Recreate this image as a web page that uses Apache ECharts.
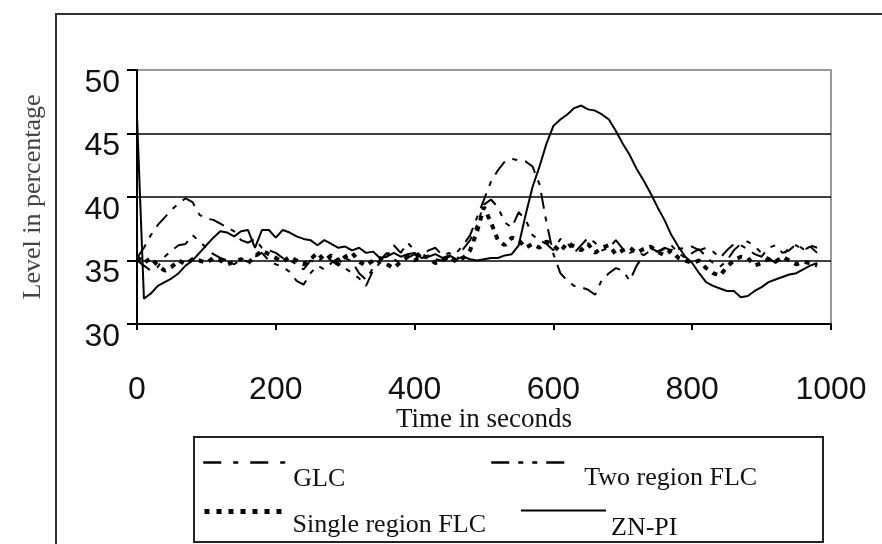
<!DOCTYPE html>
<html>
<head>
<meta charset="utf-8">
<script src="https://cdn.jsdelivr.net/npm/echarts@6/dist/echarts.min.js"></script>
<style>
  html, body { margin: 0; padding: 0; background: #fff; }
  #chart { width: 882px; height: 544px; }
</style>
</head>
<body>
<div id="chart"></div>
<script>
// time in seconds, one reading every 10 s
const seconds = [
  0, 10, 20, 30, 40, 50, 60, 70, 80, 90,
  100, 110, 120, 130, 140, 150, 160, 170, 180, 190,
  200, 210, 220, 230, 240, 250, 260, 270, 280, 290,
  300, 310, 320, 330, 340, 350, 360, 370, 380, 390,
  400, 410, 420, 430, 440, 450, 460, 470, 480, 490,
  500, 510, 520, 530, 540, 550, 560, 570, 580, 590,
  600, 610, 620, 630, 640, 650, 660, 670, 680, 690,
  700, 710, 720, 730, 740, 750, 760, 770, 780, 790,
  800, 810, 820, 830, 840, 850, 860, 870, 880, 890,
  900, 910, 920, 930, 940, 950, 960, 970, 980
];

const glc = [
  35.2, 36.0, 37.0, 37.8, 38.4, 39.0, 39.5, 39.9, 39.6, 38.6,
  38.3, 38.2, 37.9, 37.6, 37.3, 36.6, 36.4, 36.7, 36.0, 35.8,
  35.6, 35.2, 35.0, 34.7, 34.3, 35.0, 34.8, 35.5, 35.0, 34.6,
  35.2, 34.9, 34.0, 33.5, 34.4, 35.0, 35.6, 35.1, 34.8, 35.2,
  35.5, 35.0, 35.4, 35.1, 35.0, 35.3, 35.6, 36.2, 37.0, 38.4,
  39.8, 41.2, 42.1, 42.8, 43.0, 42.9, 42.8, 42.4, 41.0, 38.0,
  35.5, 34.0, 33.4, 33.0, 32.9, 32.7, 32.3, 33.5, 34.0, 34.4,
  34.2, 33.4, 34.6, 35.4, 35.8, 35.7, 36.0, 35.8, 35.9, 36.0,
  36.1, 35.8, 36.0, 35.7, 35.2, 35.8, 36.3, 36.2, 35.9, 35.5,
  35.3, 36.0, 36.2, 35.6, 35.8, 36.3, 35.9, 36.2, 36.0
];

const twoRegionFlc = [
  35.0, 34.6, 34.2, 34.5, 35.3, 35.8, 36.2, 36.3, 37.0, 36.5,
  36.0, 35.5, 35.2, 35.0, 34.7, 35.1, 34.9, 35.3, 35.6, 35.0,
  34.7, 34.5, 34.1, 33.4, 33.1, 34.0, 34.6, 34.3, 34.8, 35.2,
  34.4, 34.0, 33.6, 33.0, 34.2, 34.8, 35.3, 36.2, 35.6, 36.4,
  35.8, 35.3, 35.8, 36.0, 35.4, 35.6, 35.0, 35.9, 36.6, 37.8,
  39.4, 39.8, 39.2, 38.0, 37.6, 38.8, 38.2, 37.0, 36.6, 36.3,
  35.8, 36.7, 36.4, 35.6, 36.2, 36.8, 36.4, 35.8, 36.0, 36.6,
  35.9, 35.6, 35.8, 35.4, 36.0, 35.7, 35.9, 36.2, 35.6, 35.2,
  35.6, 35.9, 35.3, 34.8, 34.5, 35.0, 35.8, 36.3, 36.5, 36.1,
  35.6, 35.2, 34.8, 35.4, 36.0, 36.2, 35.8, 36.1, 35.6
];

const singleRegionFlc = [
  35.3, 34.8, 35.2, 34.6, 34.2, 34.5, 35.0, 34.7, 35.1, 35.0,
  34.8, 35.2, 35.0, 34.7, 34.9, 35.1, 34.8, 35.3, 35.8, 35.5,
  35.2, 34.9, 35.3, 35.0, 34.7, 35.1, 35.6, 35.0, 35.4, 34.8,
  35.3, 35.6, 34.9, 34.6, 35.0, 35.2, 34.7, 34.4, 34.9, 35.3,
  35.0, 35.4, 35.2, 34.8, 35.0, 35.3, 34.9, 35.2, 35.8, 37.3,
  39.2, 38.0, 36.6, 36.2, 36.8, 36.6, 36.0, 36.3, 36.0, 36.5,
  36.2, 35.7, 36.4, 36.1, 35.8, 36.3, 35.6, 36.0, 36.2, 35.5,
  35.8, 36.0, 35.6, 35.9, 36.1, 35.7, 35.4, 35.8, 35.2, 35.0,
  34.8, 35.0, 34.4, 34.0, 33.8, 34.5, 35.0, 35.3, 35.2, 34.6,
  34.8, 35.1, 34.9, 35.3, 35.0, 34.7, 34.9, 34.8, 34.6
];

const znPi = [
  46.3, 32.0, 32.4, 33.0, 33.3, 33.6, 34.0, 34.6, 35.0, 35.6,
  36.2, 36.8, 37.3, 37.2, 36.9, 37.3, 37.4, 36.0, 37.4, 37.4,
  36.8, 37.4, 37.2, 36.9, 36.7, 36.6, 36.2, 36.6, 36.3, 36.0,
  36.1, 35.8, 36.0, 35.6, 35.7, 35.2, 35.3, 35.6, 35.3, 35.5,
  35.6, 35.2, 35.3, 35.5, 35.2, 35.4, 35.1, 35.3, 35.1, 35.0,
  35.1, 35.2, 35.2, 35.4, 35.5, 36.2, 38.6, 40.8, 42.4, 44.2,
  45.6, 46.1, 46.5, 47.0, 47.2, 46.9, 46.8, 46.5, 46.1, 45.2,
  44.2, 43.3, 42.2, 41.3, 40.3, 39.2, 38.2, 37.0, 36.1, 35.3,
  34.8, 34.0, 33.3, 33.0, 32.8, 32.6, 32.6, 32.1, 32.2, 32.6,
  32.9, 33.3, 33.5, 33.7, 33.9, 34.0, 34.3, 34.6, 34.8
];

const xTicks = { min: 0, max: 1000, step: 200 };
const yTicks = { min: 30, max: 50, step: 5 };

const pairs = (vals) => vals.map((v, i) => [seconds[i], v]);

const serif = 'Liberation Serif, Times New Roman, serif';
const sans = 'Liberation Sans, Arial, sans-serif';

const chart = echarts.init(document.getElementById('chart'), null, { renderer: 'canvas' });

// each legend entry sits on its own, the name drops below the sample line
function legendFor(name, left, top, iconWidth, shiftDown, gapLeft, lineStyle) {
  return {
    data: [name],
    left: left,
    top: top,
    padding: 0,
    itemWidth: iconWidth,
    itemHeight: 14,
    selectedMode: false,
    itemStyle: { color: 'rgba(0,0,0,0)', borderWidth: 0, opacity: 0 },
    lineStyle: lineStyle || {},
    formatter: (n) => '{t|' + n + '}',
    textStyle: {
      rich: {
        t: {
          fontFamily: serif, fontSize: 26, color: '#111',
          padding: [shiftDown * 2, 0, 0, gapLeft]
        }
      }
    }
  };
}

chart.setOption({
  animation: false,
  backgroundColor: '#fff',
  grid: {
    left: 137, right: 51, top: 70, bottom: 220,
    show: true, borderColor: '#9a9a9a', borderWidth: 2
  },
  xAxis: {
    type: 'value',
    min: xTicks.min, max: xTicks.max, interval: xTicks.step,
    name: 'Time in seconds',
    nameLocation: 'middle',
    nameGap: 78,
    nameTextStyle: { fontFamily: serif, fontSize: 27, color: '#111' },
    axisLine: { lineStyle: { color: '#000', width: 2 } },
    axisTick: { show: true, length: 6, lineStyle: { color: '#000', width: 2 } },
    axisLabel: {
      fontFamily: sans, fontSize: 32, color: '#111', margin: 50,
      formatter: (v) => String(v)
    },
    splitLine: { show: false }
  },
  yAxis: {
    type: 'value',
    min: yTicks.min, max: yTicks.max, interval: yTicks.step,
    name: 'Level in percentage',
    nameLocation: 'middle',
    nameGap: 91,
    nameTextStyle: { fontFamily: serif, fontSize: 26, color: '#444' },
    axisLine: { show: true, lineStyle: { color: '#000', width: 2 } },
    axisTick: { show: true, length: 10, lineStyle: { color: '#000', width: 2 } },
    axisLabel: {
      margin: 17,
      formatter: (v) => '{n|' + v + '}',
      rich: { n: { fontFamily: sans, fontSize: 32, color: '#111', padding: [26, 0, 0, 0] } }
    },
    splitLine: { show: true, showMaxLine: false, lineStyle: { color: '#000', width: 1.5 } }
  },
  legend: [
    legendFor('GLC', 202, 457, 85, 17, 0, { width: 2.5, type: [18, 12, 5, 12] }),
    legendFor('Two region FLC', 490, 457, 80, 16, 8, { width: 2.5, type: [18, 9, 5, 9, 5, 9] }),
    legendFor('Single region FLC', 202, 506, 83, 14, 0, { width: 5, type: [5, 7] }),
    legendFor('ZN-PI', 520, 505, 85, 18, 0, { width: 2 })
  ],
  graphic: [
    { type: 'rect', shape: { x: 56, y: 14, width: 900, height: 600 },
      style: { fill: null, stroke: '#333', lineWidth: 2 }, silent: true, z: -1 },
    { type: 'rect', shape: { x: 194, y: 437, width: 629, height: 105 },
      style: { fill: null, stroke: '#222', lineWidth: 2 }, silent: true, z: -1 }
  ],
  series: [
    {
      name: 'Single region FLC', type: 'line', data: pairs(singleRegionFlc),
      symbol: 'none', lineStyle: { color: '#000', width: 4, type: [5, 6] }, itemStyle: { color: '#000' }
    },
    {
      name: 'Two region FLC', type: 'line', data: pairs(twoRegionFlc),
      symbol: 'none', lineStyle: { color: '#000', width: 2, type: [16, 8, 5, 8, 5, 8] }, itemStyle: { color: '#000' }
    },
    {
      name: 'GLC', type: 'line', data: pairs(glc),
      symbol: 'none', lineStyle: { color: '#000', width: 2, type: [16, 8, 5, 8] }, itemStyle: { color: '#000' }
    },
    {
      name: 'ZN-PI', type: 'line', data: pairs(znPi),
      symbol: 'none', lineStyle: { color: '#000', width: 2 }, itemStyle: { color: '#000' }
    }
  ]
});
</script>
</body>
</html>
